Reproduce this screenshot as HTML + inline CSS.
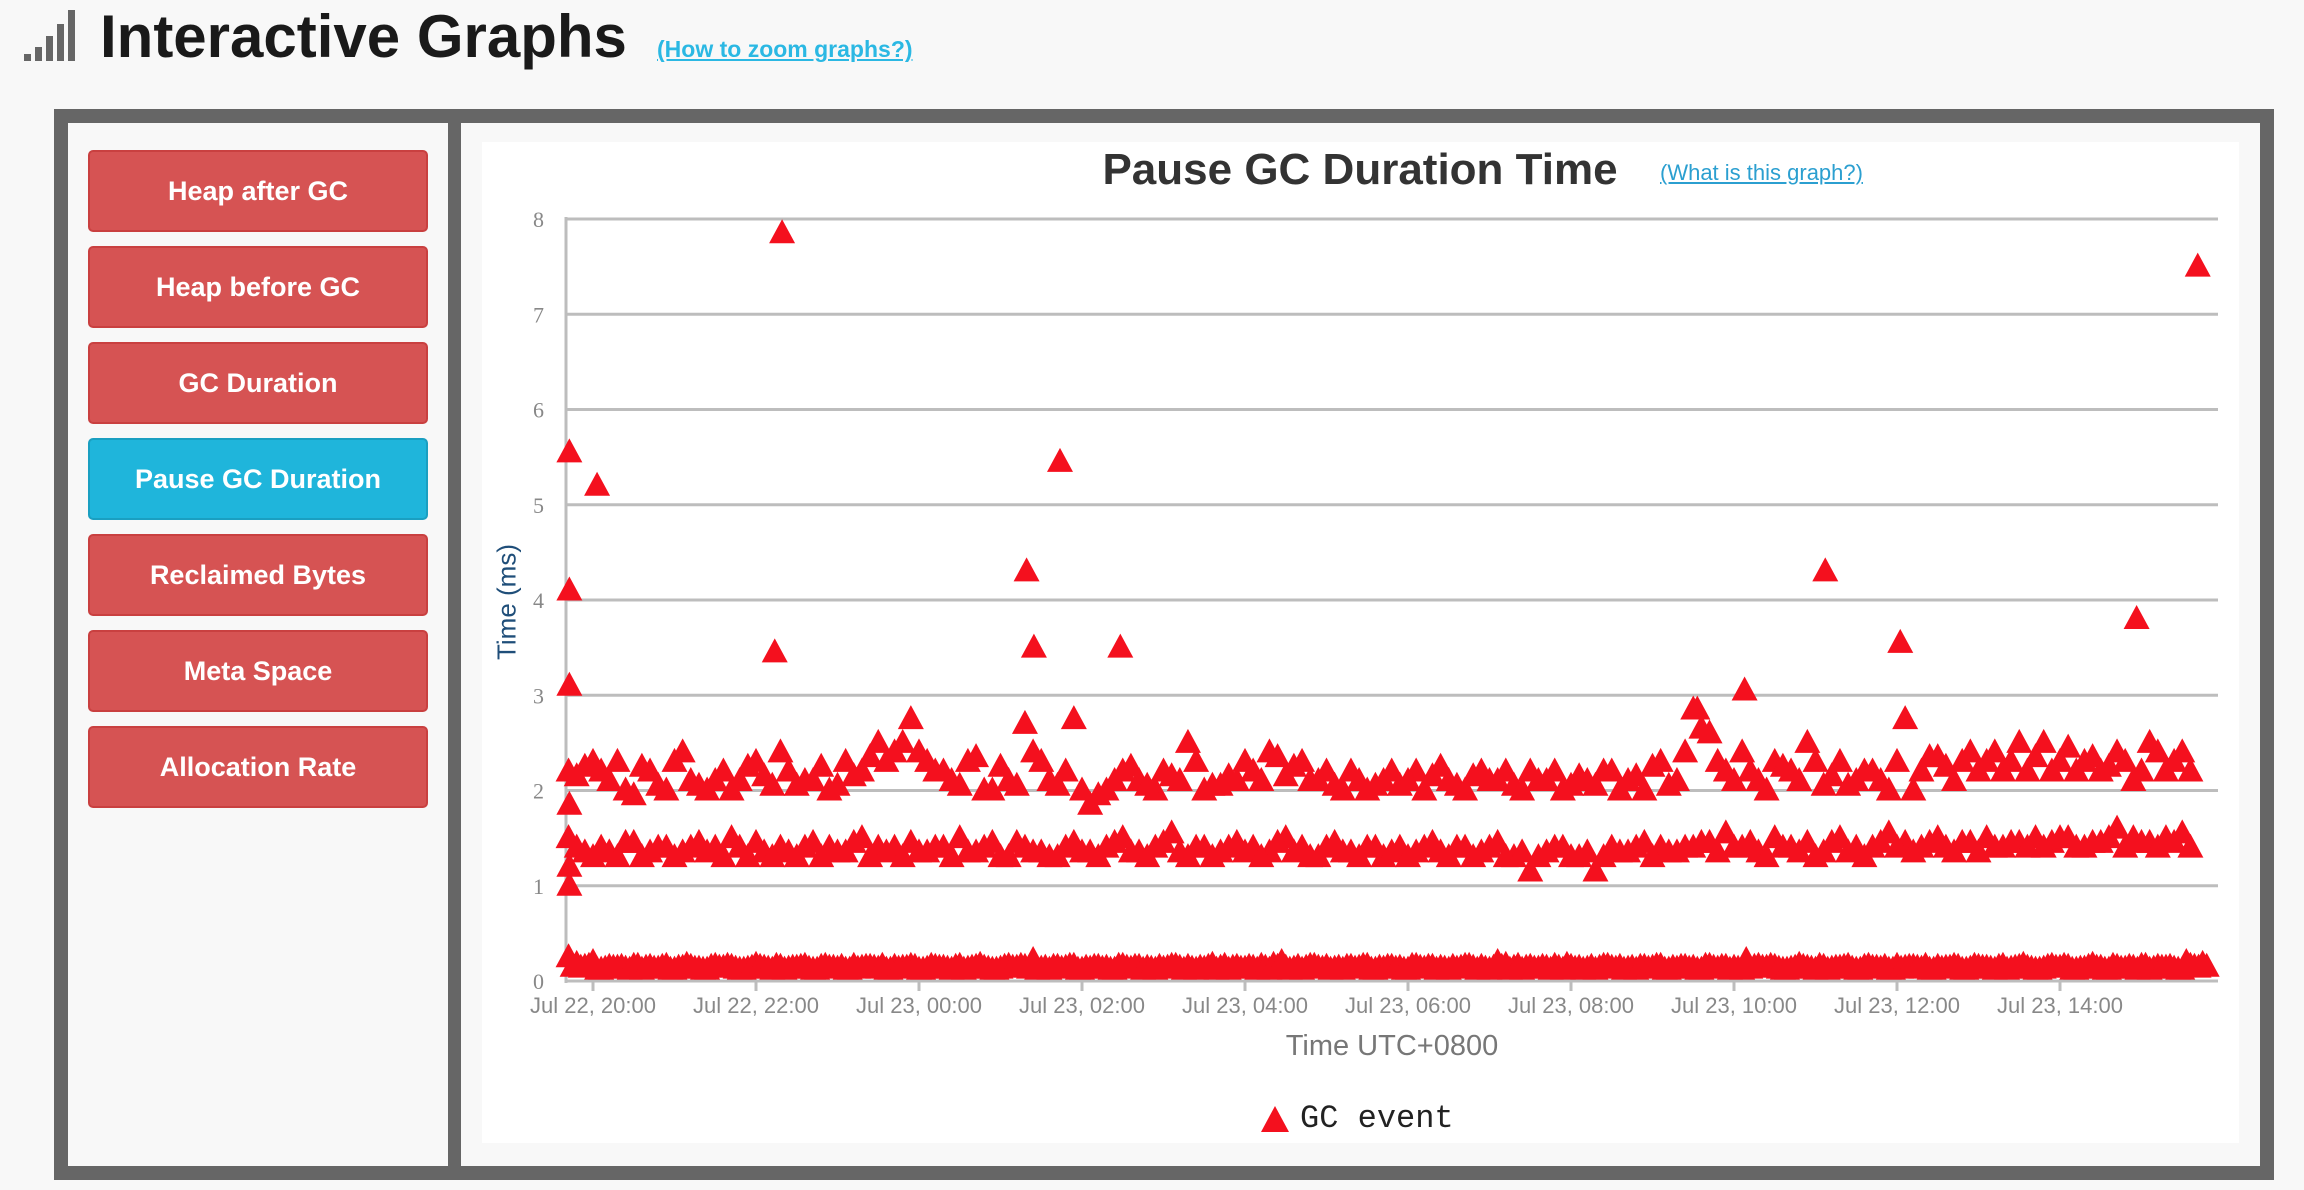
<!DOCTYPE html>
<html><head><meta charset="utf-8"><style>
body{margin:0;width:2304px;height:1190px;background:#f8f8f8;font-family:"Liberation Sans",sans-serif;position:relative;overflow:hidden}
.abs{position:absolute}
.btn{position:absolute;left:88px;width:336px;height:78px;background:#d65353;border:2px solid #c94040;border-radius:5px;color:#fff;font-weight:bold;font-size:27px;display:flex;align-items:center;justify-content:center}
.btn.active{background:#1fb5db;border-color:#1a9fc1}
</style></head><body>
<div class="abs" style="left:24px;top:10px;width:64px;height:52px">
<div class="abs" style="left:0;top:44px;width:7px;height:7px;background:#666"></div>
<div class="abs" style="left:11px;top:37px;width:7px;height:14px;background:#666"></div>
<div class="abs" style="left:22px;top:26px;width:7px;height:25px;background:#666"></div>
<div class="abs" style="left:33px;top:14px;width:7px;height:37px;background:#666"></div>
<div class="abs" style="left:44px;top:0px;width:7px;height:51px;background:#666"></div>
</div>
<div class="abs" style="left:100px;top:2px;font-size:60px;font-weight:bold;color:#1a1a1a">Interactive Graphs</div>
<a class="abs" style="left:657px;top:36px;font-size:23px;font-weight:bold;color:#2bb8e3;text-decoration:underline">(How to zoom graphs?)</a>
<div class="abs" style="left:54px;top:109px;width:2220px;height:1071px;background:#666"></div>
<div class="abs" style="left:68px;top:123px;width:380px;height:1043px;background:#f8f8f8"></div>
<div class="abs" style="left:461px;top:123px;width:1799px;height:1043px;background:#f8f8f8"></div>
<div class="abs" style="left:482px;top:142px;width:1757px;height:1001px;background:#fff"></div>
<div class="btn" style="top:150px">Heap after GC</div>
<div class="btn" style="top:246px">Heap before GC</div>
<div class="btn" style="top:342px">GC Duration</div>
<div class="btn active" style="top:438px">Pause GC Duration</div>
<div class="btn" style="top:534px">Reclaimed Bytes</div>
<div class="btn" style="top:630px">Meta Space</div>
<div class="btn" style="top:726px">Allocation Rate</div>
<svg id="chart" class="abs" style="left:0;top:0" width="2304" height="1190"></svg>
<script>
const yTicks=[0,1,2,3,4,5,6,7,8];
const xTickHours=[0,2,4,6,8,10,12,14,16,18];
const xTickLabels=["Jul 22, 20:00","Jul 22, 22:00","Jul 23, 00:00","Jul 23, 02:00","Jul 23, 04:00","Jul 23, 06:00","Jul 23, 08:00","Jul 23, 10:00","Jul 23, 12:00","Jul 23, 14:00"];
const bandStartHour=-0.3;
const bandStepHours=0.2;
const lowStepHours=0.1;
const highBand=[2.2,2.25,2.2,2.3,1.95,2.2,2.0,2.4,2.05,2.1,2.0,2.25,2.15,2.4,2.05,2.1,2.0,2.3,2.2,2.5,2.4,2.75,2.3,2.2,2.05,2.35,2.0,2.1,2.7,2.3,2.05,2.75,1.85,2.0,2.2,2.1,2.0,2.15,2.5,2.0,2.05,2.1,2.2,2.4,2.15,2.3,2.1,2.05,2.2,2.0,2.1,2.05,2.2,2.15,2.1,2.0,2.2,2.1,2.05,2.2,2.1,2.0,2.15,2.05,2.2,2.1,2.0,2.3,2.1,2.85,2.6,2.2,2.4,2.1,2.3,2.2,2.5,2.05,2.3,2.1,2.2,2.0,2.75,2.2,2.35,2.1,2.4,2.3,2.2,2.5,2.35,2.2,2.45,2.3,2.2,2.4,2.1,2.5,2.2,2.4];
const highBand2=[2.15,2.3,2.1,2.0,2.25,2.05,2.3,2.1,2.0,2.2,2.1,2.3,2.05,2.2,2.1,2.25,2.05,2.15,2.35,2.3,2.5,2.4,2.2,2.1,2.3,2.0,2.25,2.05,2.4,2.1,2.2,2.0,1.95,2.1,2.25,2.05,2.2,2.1,2.3,2.05,2.15,2.3,2.1,2.35,2.25,2.1,2.2,2.0,2.1,2.05,2.2,2.1,2.0,2.25,2.05,2.15,2.1,2.2,2.0,2.1,2.2,2.05,2.1,2.2,2.0,2.15,2.25,2.05,2.4,2.65,2.3,2.1,2.2,2.0,2.25,2.1,2.3,2.15,2.05,2.2,2.1,2.3,2.0,2.35,2.25,2.3,2.2,2.4,2.3,2.2,2.5,2.3,2.2,2.35,2.25,2.3,2.2,2.4,2.3,2.2];
const midBand=[1.5,1.35,1.4,1.3,1.45,1.35,1.4,1.35,1.45,1.4,1.5,1.3,1.35,1.4,1.3,1.45,1.4,1.35,1.5,1.4,1.4,1.45,1.35,1.4,1.5,1.35,1.45,1.3,1.4,1.35,1.3,1.45,1.35,1.4,1.5,1.35,1.4,1.55,1.3,1.4,1.35,1.45,1.4,1.35,1.5,1.4,1.3,1.45,1.35,1.4,1.3,1.4,1.35,1.45,1.3,1.4,1.35,1.45,1.3,1.15,1.35,1.4,1.3,1.15,1.4,1.35,1.45,1.4,1.35,1.4,1.45,1.55,1.4,1.35,1.5,1.4,1.45,1.35,1.5,1.4,1.4,1.55,1.45,1.4,1.5,1.35,1.45,1.5,1.4,1.45,1.5,1.45,1.5,1.4,1.45,1.6,1.5,1.45,1.5,1.55];
const midBand2=[1.4,1.3,1.35,1.45,1.3,1.4,1.3,1.4,1.35,1.3,1.4,1.45,1.3,1.35,1.4,1.3,1.35,1.45,1.3,1.35,1.3,1.35,1.4,1.3,1.35,1.4,1.3,1.45,1.35,1.3,1.4,1.35,1.3,1.45,1.35,1.3,1.45,1.35,1.4,1.3,1.4,1.35,1.3,1.45,1.35,1.3,1.4,1.35,1.3,1.4,1.35,1.3,1.4,1.35,1.4,1.3,1.4,1.3,1.35,1.3,1.4,1.3,1.35,1.3,1.35,1.4,1.3,1.35,1.4,1.45,1.35,1.4,1.45,1.3,1.4,1.35,1.3,1.45,1.35,1.3,1.45,1.4,1.35,1.45,1.4,1.45,1.35,1.4,1.45,1.4,1.4,1.5,1.4,1.45,1.5,1.4,1.45,1.4,1.45,1.4];
const lowBand=[0.25,0.18,0.15,0.2,0.12,0.15,0.14,0.13,0.16,0.12,0.15,0.13,0.16,0.12,0.14,0.15,0.13,0.12,0.16,0.14,0.15,0.12,0.13,0.17,0.14,0.12,0.15,0.13,0.14,0.16,0.12,0.15,0.14,0.13,0.12,0.16,0.14,0.15,0.13,0.12,0.15,0.14,0.16,0.12,0.13,0.15,0.14,0.12,0.16,0.13,0.15,0.14,0.12,0.13,0.16,0.14,0.15,0.22,0.13,0.12,0.15,0.14,0.16,0.12,0.13,0.15,0.14,0.12,0.16,0.13,0.15,0.14,0.12,0.13,0.16,0.14,0.15,0.12,0.13,0.17,0.14,0.12,0.15,0.13,0.14,0.16,0.12,0.15,0.14,0.13,0.12,0.16,0.14,0.15,0.13,0.12,0.15,0.14,0.16,0.12,0.13,0.15,0.14,0.12,0.16,0.13,0.15,0.14,0.12,0.13,0.16,0.14,0.15,0.12,0.2,0.17,0.14,0.12,0.15,0.13,0.14,0.16,0.12,0.15,0.14,0.13,0.12,0.16,0.14,0.15,0.13,0.12,0.15,0.14,0.16,0.12,0.13,0.15,0.14,0.12,0.16,0.13,0.15,0.14,0.12,0.13,0.16,0.14,0.15,0.12,0.13,0.17,0.14,0.12,0.15,0.13,0.14,0.16,0.12,0.15,0.14,0.13,0.12,0.16,0.14,0.15,0.13,0.12,0.15,0.14,0.16,0.12,0.13,0.15,0.14,0.12,0.16,0.13,0.15,0.14,0.12,0.13,0.16,0.14,0.15,0.12,0.13,0.17,0.14,0.12,0.15,0.13,0.14,0.16,0.12,0.15,0.14,0.13,0.12,0.16,0.14,0.15];
const outlierHours=[-0.29,-0.29,-0.29,-0.29,-0.29,-0.29,0.05,2.32,2.23,5.32,5.41,5.73,6.47,13.55,14.13,15.12,16.04,18.94,19.69];
const outlierValues=[5.55,4.1,3.1,1.85,1.0,1.2,5.2,7.85,3.45,4.3,3.5,5.45,3.5,2.85,3.05,4.3,3.55,3.8,7.5];

const NS="http://www.w3.org/2000/svg";
const svg=document.getElementById('chart');
const X0=566,X1=2218,Y0=981,PXH=81.5,PXV=95.25;
const xs=h=>593+h*PXH;
const ys=v=>Y0-v*PXV;
function mk(tag,attrs,parent){const e=document.createElementNS(NS,tag);for(const k in attrs)e.setAttribute(k,attrs[k]);(parent||svg).appendChild(e);return e;}
yTicks.forEach(t=>{
  if(t>0){const g=mk('line',{x1:X0,x2:X1,y1:ys(t),y2:ys(t),stroke:'#bdbdbd','stroke-width':3});
  
  }
  const l=mk('text',{x:544,y:ys(t)+8,'text-anchor':'end','font-size':22,fill:'#888','font-family':'Liberation Serif, serif'});
  l.textContent=t;
  
  
});
const ax=mk('line',{x1:X0,x2:X0,y1:ys(8)-2,y2:Y0+2,stroke:'#bdbdbd','stroke-width':3});


const bx=mk('line',{x1:X0,x2:X1,y1:Y0,y2:Y0,stroke:'#bdbdbd','stroke-width':3});


xTickHours.forEach((h,i)=>{
  const t=mk('line',{x1:xs(h),x2:xs(h),y1:Y0,y2:Y0+10,stroke:'#bdbdbd','stroke-width':3});
  
  
  if(i<xTickLabels.length){const l=mk('text',{x:xs(h),y:1013,'text-anchor':'middle','font-size':22,fill:'#888','font-family':'Liberation Sans Narrow, Liberation Sans, sans-serif'});
  l.textContent=xTickLabels[i];
  
  }
});
const marks=mk('g',{fill:'#f4101e'});


function tri(h,v){const x=xs(h),y=ys(v);
  const p=mk('polygon',{points:`${x},${y-14} ${x-13},${y+10} ${x+13},${y+10}`},marks);
  
  }
lowBand.forEach((v,i)=>tri(bandStartHour+lowStepHours*i,v));
lowBand.forEach((v,i)=>{if(i<lowBand.length-1)tri(bandStartHour+lowStepHours*(i+0.5),lowBand[lowBand.length-1-i]);});
midBand.forEach((v,i)=>tri(bandStartHour+bandStepHours*i,v));
midBand2.forEach((v,i)=>tri(bandStartHour+bandStepHours*(i+0.5),v));
highBand.forEach((v,i)=>tri(bandStartHour+bandStepHours*i,v));
highBand2.forEach((v,i)=>tri(bandStartHour+bandStepHours*(i+0.5),v));
outlierHours.forEach((h,i)=>tri(h,outlierValues[i]));
</script>
<div class="abs" style="left:1100px;top:145px;width:520px;text-align:center;font-size:44px;font-weight:bold;color:#333;font-family:'Liberation Sans Narrow','Liberation Sans',sans-serif">Pause GC Duration Time</div>
<a class="abs" style="left:1660px;top:160px;font-size:22px;color:#2b9fd0;text-decoration:underline">(What is this graph?)</a>
<div class="abs" style="left:507px;top:602px;transform:translate(-50%,-50%) rotate(-90deg);font-size:26px;color:#1f4e79;white-space:nowrap">Time (ms)</div>
<div class="abs" style="left:1392px;top:1030px;transform:translateX(-50%);font-size:29px;color:#777;white-space:nowrap">Time UTC+0800</div>
<div class="abs" style="left:1260px;top:1100px;display:flex;align-items:center">
<svg width="30" height="28"><polygon points="15,1 1,27 29,27" fill="#f4101e"/></svg>
<span style="margin-left:10px;font-family:'Liberation Mono',monospace;font-size:32px;color:#222">GC event</span></div>
</body></html>
